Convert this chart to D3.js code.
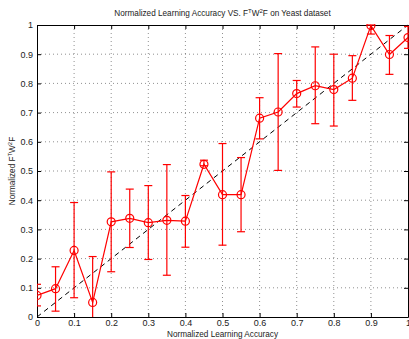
<!DOCTYPE html>
<html>
<head>
<meta charset="utf-8">
<script src="https://cdn.jsdelivr.net/npm/d3@7"></script>
<style>
  body { margin: 0; background: #fff; }
  text { font-family: "Liberation Sans", Arial, Helvetica, sans-serif; fill: #222; }
</style>
</head>
<body>
<svg id="chart" width="409" height="339"></svg>
<script>
// accuracy bins
const accuracy = [0, 0.05, 0.1, 0.15, 0.2, 0.25, 0.3, 0.35, 0.4, 0.45, 0.5,
  0.55, 0.6, 0.65, 0.7, 0.75, 0.8, 0.85, 0.9, 0.95, 1];
// mean normalized F^T W^2 F
const meanVal = [0.074, 0.097, 0.228, 0.05, 0.326, 0.338, 0.323, 0.331, 0.328, 0.523, 0.419,
  0.419, 0.681, 0.702, 0.765, 0.792, 0.779, 0.818, 0.998, 0.899, 0.957];
// error bar ends
const errTop = [0.112, 0.172, 0.392, 0.207, 0.497, 0.438, 0.45, 0.522, 0.416, 0.537, 0.594,
  0.546, 0.751, 0.902, 0.81, 0.925, 0.9, 0.895, 1.0, 0.964, 0.995];
const errBottom = [0.038, 0.02, 0.066, -0.107, 0.155, 0.238, 0.197, 0.143, 0.239, 0.518, 0.246,
  0.292, 0.61, 0.502, 0.719, 0.662, 0.654, 0.742, 0.969, 0.831, 0.92];
const tickVals = [0, 0.1, 0.2, 0.3, 0.4, 0.5, 0.6, 0.7, 0.8, 0.9, 1];
const diagonal = [0, 1];

const mLeft = 37, mRight = 408, mTop = 25, mBottom = 317;
const svg = d3.select("#chart");

const x = d3.scaleLinear().domain([0, 1]).range([mLeft, mRight]);
const y = d3.scaleLinear().domain([0, 1]).range([mBottom, mTop]);

// dotted grid
const grid = svg.append("g")
  .attr("stroke", "#444")
  .attr("stroke-width", 0.6)
  .attr("stroke-dasharray", "1,3");
grid.selectAll(".gx").data(tickVals.slice(1, -1)).enter().append("line")
  .attr("x1", d => x(d)).attr("x2", d => x(d))
  .attr("y1", mTop).attr("y2", mBottom);
grid.selectAll(".gy").data(tickVals.slice(1, -1)).enter().append("line")
  .attr("y1", d => y(d)).attr("y2", d => y(d))
  .attr("x1", mLeft).attr("x2", mRight);

// axes, ticks pointing inward
const xAxis = svg.append("g")
  .attr("transform", "translate(0," + mBottom + ")")
  .call(d3.axisBottom(x).tickValues(tickVals).tickSizeInner(-4).tickSizeOuter(0)
    .tickPadding(3).tickFormat(d3.format("")));
const yAxis = svg.append("g")
  .attr("transform", "translate(" + mLeft + ",0)")
  .call(d3.axisLeft(y).tickValues(tickVals).tickSizeInner(-4).tickSizeOuter(0)
    .tickPadding(4).tickFormat(d3.format("")));
const xTop = svg.append("g")
  .attr("transform", "translate(0," + mTop + ")")
  .call(d3.axisTop(x).tickValues(tickVals).tickSizeInner(-4).tickSizeOuter(0).tickFormat(""));
const yRight = svg.append("g")
  .attr("transform", "translate(" + mRight + ",0)")
  .call(d3.axisRight(y).tickValues(tickVals).tickSizeInner(-4).tickSizeOuter(0).tickFormat(""));

[xAxis, yAxis, xTop, yRight].forEach(a => {
  a.select(".domain").attr("stroke", "#000").attr("stroke-width", 1);
  a.selectAll(".tick line").attr("stroke", "#000");
  a.selectAll("text").style("font-size", "9px").attr("fill", "#222");
});

// clip for data
svg.append("clipPath").attr("id", "clip")
  .append("rect").attr("x", mLeft).attr("y", mTop - 1)
  .attr("width", mRight - mLeft + 1).attr("height", mBottom - mTop + 1);

const plot = svg.append("g").attr("clip-path", "url(#clip)");

// dashed diagonal
plot.append("line")
  .attr("x1", x(diagonal[0])).attr("y1", y(diagonal[0]))
  .attr("x2", x(diagonal[1])).attr("y2", y(diagonal[1]))
  .attr("stroke", "#000").attr("stroke-width", 1)
  .attr("stroke-dasharray", "5,4");

const red = "#ff0000";
const idx = d3.range(accuracy.length);

// error bars
const eb = plot.append("g").attr("stroke", red).attr("stroke-width", 1.2);
eb.selectAll(".v").data(idx).enter().append("line")
  .attr("x1", i => x(accuracy[i])).attr("x2", i => x(accuracy[i]))
  .attr("y1", i => y(errTop[i])).attr("y2", i => y(errBottom[i]));
eb.selectAll(".ct").data(idx).enter().append("line")
  .attr("x1", i => x(accuracy[i]) - 4).attr("x2", i => x(accuracy[i]) + 4)
  .attr("y1", i => y(errTop[i])).attr("y2", i => y(errTop[i]));
eb.selectAll(".cb").data(idx).enter().append("line")
  .attr("x1", i => x(accuracy[i]) - 4).attr("x2", i => x(accuracy[i]) + 4)
  .attr("y1", i => y(errBottom[i])).attr("y2", i => y(errBottom[i]));

// main line
plot.append("path")
  .datum(idx)
  .attr("fill", "none").attr("stroke", red).attr("stroke-width", 1.2)
  .attr("d", d3.line().x(i => x(accuracy[i])).y(i => y(meanVal[i])));

// circle markers
plot.selectAll(".m").data(idx).enter().append("circle")
  .attr("cx", i => x(accuracy[i])).attr("cy", i => y(meanVal[i]))
  .attr("r", 4).attr("fill", "none").attr("stroke", red).attr("stroke-width", 1.2);

// title
const title = svg.append("text")
  .attr("x", (mLeft + mRight) / 2).attr("y", 16)
  .attr("text-anchor", "middle").style("font-size", "8.2px");
title.append("tspan").text("Normalized Learning Accuracy VS. F");
title.append("tspan").attr("dy", -3).style("font-size", "6px").text("T");
title.append("tspan").attr("dy", 3).text("W");
title.append("tspan").attr("dy", -3).style("font-size", "6px").text("2");
title.append("tspan").attr("dy", 3).text("F on Yeast dataset");

// x label
svg.append("text")
  .attr("x", (mLeft + mRight) / 2).attr("y", 337)
  .attr("text-anchor", "middle").style("font-size", "8.2px")
  .text("Normalized Learning Accuracy");

// y label
const yl = svg.append("text")
  .attr("transform", "translate(15," + ((mTop + mBottom) / 2) + ") rotate(-90)")
  .attr("text-anchor", "middle").style("font-size", "8.2px");
yl.append("tspan").text("Normalized F");
yl.append("tspan").attr("dy", -3).style("font-size", "6px").text("T");
yl.append("tspan").attr("dy", 3).text("W");
yl.append("tspan").attr("dy", -3).style("font-size", "6px").text("2");
yl.append("tspan").attr("dy", 3).text("F");
</script>
</body>
</html>
